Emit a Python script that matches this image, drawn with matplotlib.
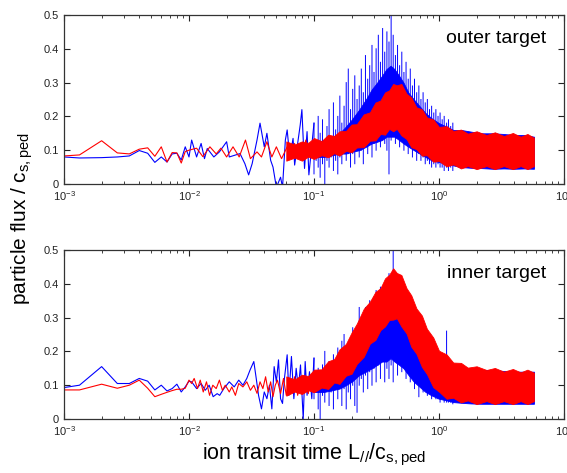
import matplotlib
matplotlib.use("Agg")
import matplotlib.pyplot as plt
from matplotlib.ticker import LogLocator, NullLocator, FixedLocator

plt.rcParams['font.family'] = ['Liberation Sans', 'DejaVu Sans']
plt.rcParams['mathtext.fontset'] = 'custom'
plt.rcParams['mathtext.rm'] = 'Liberation Sans'
plt.rcParams['mathtext.it'] = 'Liberation Sans:italic'
plt.rcParams['mathtext.bf'] = 'Liberation Sans:bold'

BLUE = '#0000ff'
RED = '#ff0000'

# x positions of the individual spikes in the dense part (same for all series)
x_spikes = [0.100, 0.104, 0.108, 0.112, 0.117, 0.122, 0.127, 0.132, 0.137, 0.143,
            0.149, 0.155, 0.161, 0.167, 0.174, 0.181, 0.188, 0.196, 0.204, 0.212,
            0.221, 0.230, 0.239, 0.248, 0.258, 0.269, 0.279, 0.291, 0.302, 0.314,
            0.327, 0.340, 0.354, 0.368, 0.383, 0.398, 0.414, 0.430, 0.448, 0.466,
            0.484, 0.504, 0.524, 0.545, 0.567, 0.589, 0.613, 0.637, 0.663, 0.690,
            0.717, 0.746, 0.776, 0.807, 0.839, 0.873, 0.908, 0.944, 0.982, 1.02,
            1.06, 1.10, 1.15, 1.19, 1.24, 1.29]

x_band_blue = [0.1, 0.12, 0.14, 0.16, 0.18, 0.2, 0.23, 0.26, 0.29, 0.32, 0.35, 0.38, 0.41, 0.44, 0.48,
               0.52, 0.57, 0.63, 0.7, 0.78, 0.87, 1.0, 1.15, 1.3, 1.5, 1.8, 2.2, 2.7, 3.3, 4.0, 4.8, 5.75]
x_band_red = [0.06, 0.07, 0.08, 0.09, 0.1, 0.115, 0.13, 0.145, 0.16, 0.18, 0.2, 0.22, 0.25, 0.28, 0.31,
              0.34, 0.37, 0.4, 0.43, 0.46, 0.5, 0.55, 0.6, 0.66, 0.73, 0.8, 0.9, 1.0, 1.15, 1.3,
              1.5, 1.7, 2.0, 2.4, 2.8, 3.3, 3.9, 4.5, 5.1, 5.75]

# ---------------- outer target (top panel) ----------------
x_blue_top = [1.0e-3, 1.33e-3, 2.0e-3, 2.67e-3, 3.33e-3, 4.0e-3, 4.67e-3, 5.33e-3, 6.0e-3, 6.67e-3,
              7.33e-3, 8.0e-3, 8.67e-3, 9.33e-3, 0.010, 0.0105, 0.0115, 0.0125, 0.0133, 0.014,
              0.0158, 0.0175, 0.020, 0.021, 0.0256, 0.028, 0.030, 0.032, 0.035, 0.037,
              0.040, 0.042, 0.045, 0.047, 0.050, 0.054, 0.056, 0.059, 0.061, 0.064,
              0.068, 0.070, 0.0776, 0.080, 0.084, 0.088, 0.091, 0.100]
y_blue_top = [0.080, 0.077, 0.078, 0.080, 0.083, 0.099, 0.091, 0.064, 0.080, 0.065,
              0.089, 0.091, 0.071, 0.110, 0.080, 0.130, 0.080, 0.120, 0.075, 0.105,
              0.080, 0.095, 0.125, 0.080, 0.090, 0.060, 0.027, 0.060, 0.130, 0.180,
              0.110, 0.150, 0.070, 0.050, -0.010, 0.020, -0.010, 0.130, 0.160, 0.080,
              0.135, 0.056, 0.175, 0.220, 0.046, 0.155, 0.027, 0.180]
spike_top_blue_top = [0.18, 0.12, 0.20, 0.15, 0.19, 0.13, 0.17, 0.22, 0.14, 0.24,
                      0.16, 0.20, 0.26, 0.18, 0.23, 0.30, 0.34, 0.22, 0.28, 0.32,
                      0.25, 0.29, 0.34, 0.27, 0.38, 0.31, 0.35, 0.41, 0.33, 0.40,
                      0.44, 0.36, 0.46, 0.39, 0.45, 0.42, 0.50, 0.44, 0.38, 0.41,
                      0.35, 0.39, 0.33, 0.36, 0.31, 0.34, 0.29, 0.31, 0.27, 0.29,
                      0.25, 0.27, 0.24, 0.25, 0.22, 0.23, 0.21, 0.22, 0.20, 0.21,
                      0.19, 0.20, 0.18, 0.19, 0.17, 0.18]
spike_bot_blue_top = [0.03, 0.07, 0.05, 0.02, 0.06, 0.00, 0.07, 0.05, 0.08, 0.04,
                      0.07, 0.03, 0.08, 0.06, 0.10, 0.07, 0.09, 0.05, 0.09, 0.06,
                      0.11, 0.08, 0.10, 0.06, 0.11, 0.09, 0.12, 0.08, 0.12, 0.10,
                      0.13, 0.11, 0.14, 0.12, 0.10, 0.03, 0.13, 0.15, 0.12, 0.14,
                      0.11, 0.13, 0.10, 0.12, 0.09, 0.11, 0.08, 0.10, 0.07, 0.09,
                      0.07, 0.08, 0.06, 0.07, 0.06, 0.05, 0.06, 0.05, 0.06, 0.05,
                      0.05, 0.04, 0.05, 0.04, 0.05, 0.04]
hi_blue_top = [0.12, 0.13, 0.14, 0.15, 0.17, 0.19, 0.22, 0.25, 0.28, 0.30, 0.32, 0.34, 0.35, 0.34, 0.32,
               0.30, 0.27, 0.25, 0.23, 0.21, 0.195, 0.18, 0.17, 0.16, 0.16, 0.155, 0.15, 0.15, 0.148, 0.145, 0.145, 0.14]
lo_blue_top = [0.08, 0.08, 0.085, 0.09, 0.09, 0.095, 0.10, 0.11, 0.12, 0.125, 0.13, 0.14, 0.14, 0.14, 0.13,
               0.12, 0.11, 0.1, 0.09, 0.08, 0.07, 0.065, 0.06, 0.055, 0.05, 0.048, 0.047, 0.045, 0.046, 0.045, 0.046, 0.045]

x_red_top = [1.0e-3, 1.33e-3, 2.0e-3, 2.67e-3, 3.33e-3, 4.0e-3, 4.67e-3, 5.33e-3, 6.0e-3, 6.67e-3,
             7.33e-3, 8.0e-3, 8.67e-3, 9.33e-3, 0.010, 0.0115, 0.0129, 0.0147, 0.0165, 0.018,
             0.020, 0.0225, 0.0252, 0.0283, 0.031, 0.035, 0.038, 0.042, 0.046, 0.050,
             0.055, 0.061, 0.066, 0.070, 0.074, 0.078, 0.082, 0.086, 0.090, 0.095, 0.100]
y_red_top = [0.083, 0.086, 0.128, 0.092, 0.089, 0.103, 0.107, 0.082, 0.110, 0.065,
             0.093, 0.092, 0.062, 0.096, 0.100, 0.106, 0.081, 0.110, 0.089, 0.106,
             0.080, 0.110, 0.080, 0.130, 0.075, 0.095, 0.080, 0.125, 0.080, 0.110,
             0.075, 0.110, 0.090, 0.120, 0.075, 0.115, 0.085, 0.130, 0.080, 0.120, 0.090]
hi_red_top = [0.126, 0.117, 0.126, 0.122, 0.136, 0.127, 0.146, 0.142, 0.156, 0.157, 0.176, 0.177, 0.206, 0.212, 0.241,
              0.247, 0.271, 0.277, 0.296, 0.292, 0.296, 0.267, 0.256, 0.227, 0.221, 0.197, 0.191, 0.169, 0.171, 0.157,
              0.161, 0.149, 0.156, 0.145, 0.153, 0.142, 0.151, 0.14, 0.148, 0.137]
lo_red_top = [0.069, 0.078, 0.069, 0.081, 0.074, 0.085, 0.079, 0.091, 0.084, 0.098, 0.094, 0.108, 0.109, 0.128, 0.129,
              0.148, 0.146, 0.163, 0.156, 0.163, 0.144, 0.133, 0.109, 0.103, 0.084, 0.085, 0.066, 0.068, 0.052, 0.058,
              0.046, 0.053, 0.044, 0.053, 0.044, 0.053, 0.044, 0.053, 0.044, 0.053]

# ---------------- inner target (bottom panel) ----------------
x_blue_bot = [1.0e-3, 1.33e-3, 2.0e-3, 2.67e-3, 3.33e-3, 4.0e-3, 4.67e-3, 5.33e-3, 6.0e-3, 6.67e-3,
              7.33e-3, 8.0e-3, 8.67e-3, 9.33e-3, 0.010, 0.0105, 0.0115, 0.0125, 0.0135, 0.0145,
              0.0156, 0.0168, 0.0176, 0.019, 0.021, 0.023, 0.025, 0.027, 0.029, 0.0308,
              0.033, 0.0345, 0.036, 0.038, 0.040, 0.042, 0.044, 0.046, 0.048, 0.050,
              0.052, 0.054, 0.056, 0.058, 0.061, 0.063, 0.066, 0.069, 0.072, 0.075,
              0.078, 0.082, 0.085, 0.088, 0.092, 0.096, 0.100]
y_blue_bot = [0.093, 0.100, 0.155, 0.105, 0.105, 0.120, 0.112, 0.086, 0.100, 0.083,
              0.090, 0.103, 0.080, 0.095, 0.112, 0.110, 0.090, 0.105, 0.085, 0.100,
              0.066, 0.075, 0.070, 0.090, 0.110, 0.095, 0.115, 0.100, 0.120, 0.145,
              0.170, 0.120, 0.070, 0.030, 0.080, 0.060, 0.100, 0.030, 0.155, 0.110,
              0.175, 0.060, 0.046, 0.120, 0.190, 0.070, 0.185, 0.060, 0.150, 0.090,
              0.160, 0.000, 0.170, 0.070, 0.140, 0.060, 0.180]
spike_top_blue_bot = [0.18, 0.13, 0.15, 0.12, 0.16, 0.20, 0.14, 0.17, 0.15, 0.19,
                      0.16, 0.21, 0.18, 0.23, 0.25, 0.21, 0.20, 0.24, 0.27, 0.22,
                      0.26, 0.33, 0.28, 0.30, 0.33, 0.29, 0.35, 0.32, 0.36, 0.38,
                      0.34, 0.39, 0.36, 0.40, 0.38, 0.43, 0.41, 0.50, 0.40, 0.38,
                      0.36, 0.34, 0.33, 0.31, 0.30, 0.28, 0.27, 0.25, 0.24, 0.22,
                      0.22, 0.20, 0.19, 0.18, 0.18, 0.17, 0.16, 0.17, 0.16, 0.15,
                      0.16, 0.15, 0.26, 0.15, 0.16, 0.15]
spike_bot_blue_bot = [0.06, 0.08, 0.03, 0.00, 0.07, 0.05, 0.09, 0.04, 0.08, 0.03,
                      0.09, 0.06, 0.10, 0.04, 0.09, 0.03, 0.08, 0.06, 0.10, 0.04,
                      0.02, 0.10, 0.12, 0.08, 0.13, 0.09, 0.14, 0.10, 0.15, 0.11,
                      0.16, 0.12, 0.17, 0.11, 0.15, 0.12, 0.16, 0.11, 0.17, 0.13,
                      0.20, 0.14, 0.18, 0.12, 0.17, 0.11, 0.15, 0.09, 0.12, 0.066,
                      0.10, 0.08, 0.10, 0.07, 0.08, 0.06, 0.07, 0.06, 0.06, 0.05,
                      0.06, 0.05, 0.05, 0.05, 0.05, 0.045]
hi_blue_bot = [0.12, 0.13, 0.15, 0.17, 0.19, 0.21, 0.24, 0.27, 0.29, 0.31, 0.32, 0.33, 0.33, 0.32, 0.31,
               0.29, 0.26, 0.23, 0.2, 0.18, 0.17, 0.16, 0.155, 0.15, 0.15, 0.148, 0.145, 0.145, 0.142, 0.14, 0.14, 0.14]
lo_blue_bot = [0.08, 0.08, 0.085, 0.09, 0.1, 0.11, 0.13, 0.14, 0.15, 0.16, 0.17, 0.17, 0.18, 0.17, 0.16,
               0.15, 0.13, 0.11, 0.095, 0.08, 0.07, 0.06, 0.055, 0.05, 0.048, 0.046, 0.045, 0.045, 0.045, 0.045, 0.045, 0.045]

x_red_bot = [1.0e-3, 1.33e-3, 2.0e-3, 2.67e-3, 3.33e-3, 4.0e-3, 4.67e-3, 5.33e-3, 6.0e-3, 6.67e-3,
             7.33e-3, 8.0e-3, 8.67e-3, 9.33e-3, 0.010, 0.0105, 0.011, 0.0117, 0.0123, 0.013,
             0.0138, 0.0146, 0.0155, 0.0165, 0.0175, 0.0185, 0.0195, 0.021, 0.022, 0.0235,
             0.025, 0.027, 0.029, 0.031, 0.033, 0.035, 0.037, 0.039, 0.041, 0.043,
             0.045, 0.047, 0.049, 0.051, 0.054, 0.057, 0.060, 0.063, 0.066, 0.070,
             0.074, 0.078, 0.082, 0.086, 0.090, 0.095, 0.100]
y_red_bot = [0.086, 0.086, 0.103, 0.091, 0.100, 0.115, 0.091, 0.066, 0.073, 0.079,
             0.084, 0.088, 0.088, 0.091, 0.115, 0.105, 0.120, 0.090, 0.115, 0.080,
             0.110, 0.070, 0.100, 0.090, 0.115, 0.085, 0.100, 0.080, 0.095, 0.070,
             0.105, 0.095, 0.110, 0.085, 0.100, 0.076, 0.110, 0.090, 0.125, 0.080,
             0.110, 0.066, 0.100, 0.115, 0.075, 0.120, 0.070, 0.110, 0.080, 0.125,
             0.070, 0.115, 0.080, 0.120, 0.075, 0.130, 0.080]
hi_red_bot = [0.126, 0.117, 0.131, 0.127, 0.146, 0.147, 0.171, 0.177, 0.206, 0.222, 0.256, 0.282, 0.326, 0.347, 0.376,
              0.387, 0.416, 0.427, 0.446, 0.432, 0.426, 0.387, 0.366, 0.327, 0.306, 0.267, 0.241, 0.202, 0.191, 0.167,
              0.166, 0.152, 0.156, 0.145, 0.151, 0.14, 0.148, 0.138, 0.146, 0.137]
lo_red_bot = [0.069, 0.081, 0.074, 0.085, 0.079, 0.093, 0.089, 0.108, 0.104, 0.128, 0.134, 0.163, 0.184, 0.223, 0.234,
              0.263, 0.274, 0.293, 0.294, 0.298, 0.274, 0.253, 0.214, 0.193, 0.154, 0.133, 0.094, 0.081, 0.06, 0.063,
              0.049, 0.055, 0.044, 0.053, 0.044, 0.053, 0.044, 0.053, 0.044, 0.053]

panels = [
    ("outer target", x_blue_top, y_blue_top, spike_bot_blue_top, spike_top_blue_top, lo_blue_top, hi_blue_top,
     x_red_top, y_red_top, lo_red_top, hi_red_top),
    ("inner target", x_blue_bot, y_blue_bot, spike_bot_blue_bot, spike_top_blue_bot, lo_blue_bot, hi_blue_bot,
     x_red_bot, y_red_bot, lo_red_bot, hi_red_bot),
]

fig = plt.figure(figsize=(5.67, 4.73), dpi=100)
ax_top = fig.add_axes([64 / 567, 1 - 184 / 473, 500 / 567, 169 / 473])
ax_bot = fig.add_axes([64 / 567, 1 - 419 / 473, 500 / 567, 169 / 473])

for ax, p in zip([ax_top, ax_bot], panels):
    name, xb, yb, sbot, stop, lob, hib, xr, yr, lor, hir = p
    # blue: noisy line, dense core and spikes
    ax.plot(xb, yb, color=BLUE, lw=0.8, zorder=2)
    ax.fill_between(x_band_blue, lob, hib, color=BLUE, lw=0.6, zorder=2)
    for xs, b, t in zip(x_spikes, sbot, stop):
        ax.plot([xs, xs], [b, t], color=BLUE, lw=0.7, snap=False, zorder=2)
    # red on top
    ax.plot(xr, yr, color=RED, lw=0.8, zorder=3)
    ax.fill_between(x_band_red, lor, hir, color=RED, lw=0.6, zorder=3)

    ax.set_xscale('log')
    ax.set_xlim(1e-3, 1e1)
    ax.set_ylim(0, 0.5)
    ax.yaxis.set_major_locator(FixedLocator([0, 0.1, 0.2, 0.3, 0.4, 0.5]))
    ax.set_yticklabels(['0', '0.1', '0.2', '0.3', '0.4', '0.5'])
    ax.yaxis.set_minor_locator(NullLocator())
    ax.xaxis.set_major_locator(LogLocator(base=10, numticks=10))
    ax.xaxis.set_minor_locator(LogLocator(base=10, subs=range(2, 10), numticks=20))
    ax.tick_params(which='both', direction='in', top=True, right=True, labelsize=8, colors='#222222')
    ax.tick_params(which='major', length=4, width=0.8)
    ax.tick_params(which='minor', length=2.5, width=0.6)
    for s in ax.spines.values():
        s.set_color('#333333')
        s.set_linewidth(0.9)
        s.set_zorder(5)
    ax.text(0.965, 0.86, name, transform=ax.transAxes, ha='right', va='center', fontsize=14, zorder=6)

ax_bot.set_xlabel(r'ion transit time L$_{//}$/c$_{\mathrm{s,ped}}$', fontsize=15.5, labelpad=3)
fig.text(0.04, 1 - 219 / 473, r'particle flux / c$_{\mathrm{s,ped}}$', rotation=90,
         ha='center', va='center', fontsize=15)

fig.savefig('out.png', dpi=100)
